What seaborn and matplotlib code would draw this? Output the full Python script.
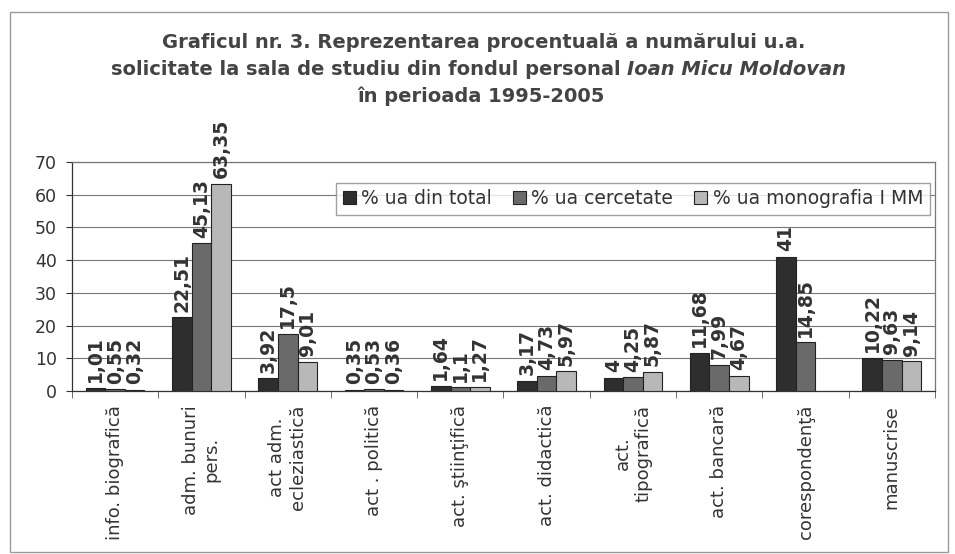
import numpy as np
import pandas as pd
import seaborn as sns
import matplotlib.pyplot as plt
from matplotlib.patches import Rectangle

# Data
categories = ['info. biografică', 'adm. bunuri\npers.', 'act adm.\necleziastică',
              'act . politică', 'act. ştiinţifică', 'act. didactică', 'act.\ntipografică',
              'act. bancară', 'corespondenţă', 'manuscrise']
series = ['% ua din total', '% ua cercetate', '% ua monografia I MM']
ua_total = [1.01, 22.51, 3.92, 0.35, 1.64, 3.17, 4, 11.68, 41, 10.22]
ua_cercetate = [0.55, 45.13, 17.5, 0.53, 1.1, 4.73, 4.25, 7.99, 14.85, 9.63]
ua_monografie = [0.32, 63.35, 9.01, 0.36, 1.27, 5.97, 5.87, 4.67, np.nan, 9.14]

df = pd.DataFrame({
    'categorie': categories * 3,
    'serie': np.repeat(series, len(categories)),
    'valoare': ua_total + ua_cercetate + ua_monografie,
}).dropna()

sns.set_style('white')
plt.rcParams['font.family'] = ['DejaVu Sans']

fig = plt.figure(figsize=(9.55, 5.54), dpi=100)
ax = fig.add_axes([0.0754, 0.2942, 0.9036, 0.4134])

palette = ['#2e2e2e', '#6a6a6a', '#b8b8b8']
sns.barplot(data=df, x='categorie', y='valoare', hue='serie', order=categories,
            hue_order=series, palette=palette, width=0.68, edgecolor='#222222',
            linewidth=0.8, ax=ax, zorder=3)

# value labels, decimal comma
for cont in ax.containers:
    ax.bar_label(cont, fmt=lambda v: f"{v:g}".replace('.', ','), rotation=90,
                 padding=4, fontsize=13.5, fontweight='bold', color='#333333')

ax.set_ylim(0, 70)
ax.set_yticks(range(0, 71, 10))
ax.yaxis.grid(True, color='#777777', linewidth=0.8, zorder=0)
ax.set_axisbelow(True)
ax.set_xlabel('')
ax.set_ylabel('')
ax.tick_params(axis='y', labelsize=12.5, colors='#333333', length=4, pad=7, left=True)
ax.tick_params(axis='x', labelsize=13, colors='#333333', length=0, pad=10)
for lab in ax.get_xticklabels():
    lab.set_rotation(90)
    lab.set_ha('center')
    lab.set_va('top')
    lab.set_multialignment('center')
ax.set_xticks(np.arange(-0.5, len(categories), 1), minor=True)
ax.tick_params(axis='x', which='minor', length=5, color='#555555', bottom=True)
for s in ax.spines.values():
    s.set_color('#777777')
    s.set_linewidth(0.9)
ax.spines['left'].set_color('#333333')
ax.spines['bottom'].set_color('#333333')

leg = ax.legend(loc='center right', bbox_to_anchor=(0.994, 0.84), ncol=3,
                fontsize=13.5, frameon=True, fancybox=False, edgecolor='#888888',
                handlelength=0.7, handleheight=0.7, handletextpad=0.3,
                columnspacing=1.1, borderpad=0.35, borderaxespad=0)
for t in leg.get_texts():
    t.set_color('#333333')

# title in three lines, the name in bold italic
fig.text(0.506, 0.924, 'Graficul nr. 3. Reprezentarea procentuală a numărului u.a.',
         ha='center', va='center', fontsize=14, fontweight='bold', color='#444444')
fig.text(0.657, 0.874, 'solicitate la sala de studiu din fondul personal ',
         ha='right', va='center', fontsize=14, fontweight='bold', color='#444444')
fig.text(0.657, 0.874, 'Ioan Micu Moldovan',
         ha='left', va='center', fontsize=14, fontweight='bold', style='italic', color='#444444')
fig.text(0.504, 0.827, 'în perioada 1995-2005',
         ha='center', va='center', fontsize=14, fontweight='bold', color='#444444')

fig.patches.append(Rectangle((0.0105, 0.004), 0.982, 0.974, transform=fig.transFigure,
                             fill=False, edgecolor='#999999', linewidth=1))

fig.savefig('out.png', dpi=100, facecolor='white')
